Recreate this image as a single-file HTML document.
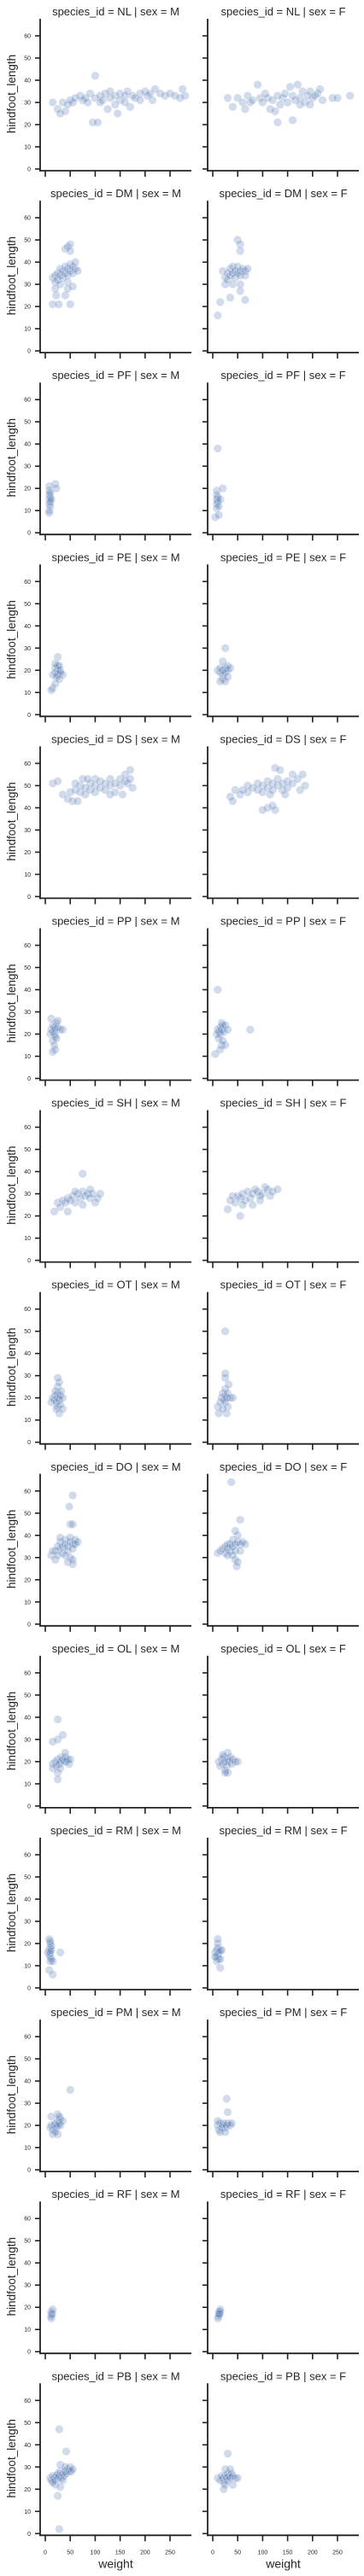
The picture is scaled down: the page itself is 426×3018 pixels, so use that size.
<!DOCTYPE html>
<html><head><meta charset="utf-8"><style>
html,body{margin:0;padding:0;background:#fff}
svg{display:block}
text{font-family:"Liberation Sans",Arial,sans-serif;fill:#262626}
</style></head><body>
<svg id="chart" width="426" height="3018" viewBox="0 0 426 3018" xmlns="http://www.w3.org/2000/svg"></svg>
<script>
const species = ["NL","DM","PF","PE","DS","PP","SH","OT","DO","OL","RM","PM","RF","PB"];
const sexes = ["M","F"];
const yTicks = [0,10,20,30,40,50,60];
const xTicks = [0,50,100,150,200,250];
const NL_M=[[15,30],[25,27],[30,25],[35,30],[40,26],[45,29],[50,31],[55,30],[60,32],[70,33],[75,31],[80,32],[90,34],[95,21],[100,42],[105,21],[100,32],[110,33],[115,31],[120,34],[125,27],[130,32],[140,33],[145,25],[150,34],[150,31],[160,33],[165,35],[170,28],[175,33],[180,32],[190,34],[200,35],[205,33],[210,34],[220,36],[230,34],[240,33],[250,34],[260,33],[270,32],[275,36],[280,33],[130,35],[160,30],[190,31],[85,30],[110,30],[140,29],[215,31]];
const NL_F=[[30,32],[40,28],[50,32],[60,30],[65,27],[70,33],[75,30],[80,31],[90,38],[95,32],[100,30],[105,34],[110,32],[115,27],[120,31],[125,26],[130,33],[130,21],[140,32],[145,34],[150,30],[155,37],[160,22],[160,33],[165,31],[170,38],[175,32],[180,35],[185,30],[190,33],[195,35],[200,32],[205,33],[210,34],[215,36],[220,31],[240,32],[250,32],[275,33],[135,29],[175,29],[195,29]];
const DM_M=[[15,33],[20,34],[20,31],[25,35],[25,32],[30,34],[30,37],[35,33],[35,36],[40,35],[40,38],[45,34],[45,37],[50,36],[50,39],[55,35],[55,38],[60,37],[60,40],[65,36],[30,30],[45,31],[40,46],[45,47],[50,48],[50,45],[15,21],[27,21],[50,21],[22,25],[40,25],[20,28],[45,28],[55,29]];
const DM_F=[[20,36],[25,33],[25,30],[30,35],[30,32],[35,34],[35,37],[40,35],[40,38],[45,36],[45,33],[50,35],[50,38],[55,36],[55,34],[60,37],[65,36],[65,34],[70,37],[40,30],[55,30],[50,50],[55,48],[55,45],[35,24],[65,23],[55,27],[15,22],[10,16]];
const PF_M=[[8,15],[8,13],[8,17],[10,16],[10,14],[10,12],[8,19],[8,21],[8,10],[8,9],[12,15],[10,18],[20,22],[22,20]];
const PF_F=[[8,15],[8,13],[8,17],[10,16],[10,14],[8,19],[8,11],[5,7],[12,8],[10,38],[20,20],[12,12],[15,15]];
const PE_M=[[15,18],[20,19],[20,21],[25,20],[25,18],[25,22],[30,20],[30,19],[22,17],[28,22],[35,18],[25,26],[15,12],[12,11],[20,14],[28,16],[20,23]];
const PE_F=[[10,20],[15,19],[15,21],[20,20],[20,18],[25,21],[25,19],[30,20],[30,22],[20,16],[15,15],[25,15],[35,21],[25,30],[20,24],[30,17]];
const DS_M=[[15,51],[25,52],[35,46],[45,44],[55,43],[65,43],[50,47],[60,48],[70,47],[70,50],[80,49],[80,46],[90,48],[90,51],[100,47],[100,50],[100,53],[110,49],[110,52],[120,48],[120,51],[130,50],[130,53],[140,47],[140,51],[150,50],[150,53],[160,52],[160,55],[165,51],[170,53],[170,57],[175,49],[155,46],[130,46],[75,53],[60,51],[85,53]];
const DS_F=[[35,45],[40,43],[45,48],[55,46],[60,48],[70,47],[70,50],[80,49],[90,48],[90,51],[100,50],[100,47],[110,52],[110,49],[120,51],[120,48],[130,50],[130,53],[140,51],[140,48],[150,52],[150,49],[160,51],[160,55],[170,53],[175,48],[185,50],[110,40],[120,41],[125,39],[100,39],[125,58],[135,57],[180,55],[115,46],[145,46]];
const PP_M=[[10,20],[12,22],[15,21],[15,24],[18,20],[18,23],[20,22],[20,19],[22,25],[25,23],[15,17],[18,15],[20,13],[15,12],[12,27],[25,26],[30,22],[35,22],[22,18]];
const PP_F=[[8,20],[10,22],[12,21],[15,23],[15,20],[18,22],[18,25],[20,24],[22,21],[12,18],[18,15],[15,13],[25,15],[5,11],[10,40],[25,24],[30,22],[75,22],[20,17]];
const SH_M=[[18,22],[25,26],[30,24],[35,27],[40,26],[45,22],[45,28],[50,27],[55,29],[60,26],[65,30],[70,28],[75,31],[75,25],[80,29],[85,30],[90,28],[95,30],[100,26],[105,28],[110,30],[75,39],[60,31],[90,32]];
const SH_F=[[30,23],[35,27],[40,29],[45,26],[50,29],[55,28],[55,20],[60,30],[65,27],[70,31],[75,28],[80,30],[80,25],[85,32],[90,31],[95,27],[100,30],[105,33],[110,32],[115,29],[120,31],[130,32],[60,25],[95,29]];
const OT_M=[[12,18],[15,20],[18,19],[20,21],[22,18],[25,20],[25,22],[28,19],[30,21],[30,17],[35,20],[25,16],[22,15],[28,13],[25,25],[28,27],[25,29],[20,23],[32,23],[35,15]];
const OT_F=[[10,16],[12,13],[15,18],[18,20],[20,22],[22,19],[25,21],[25,18],[28,20],[30,22],[35,20],[30,16],[28,13],[25,24],[32,26],[25,29],[25,31],[25,50],[20,15],[40,20]];
const DO_M=[[12,31],[15,33],[20,33],[20,29],[25,35],[30,34],[30,37],[35,35],[35,32],[40,36],[40,38],[45,35],[45,33],[50,37],[50,39],[55,36],[55,34],[60,38],[60,36],[65,37],[40,31],[50,30],[45,28],[55,27],[55,29],[50,45],[55,45],[48,53],[55,58],[30,39],[25,31]];
const DO_F=[[10,32],[15,33],[20,34],[25,35],[25,32],[30,34],[30,36],[35,33],[35,36],[40,35],[40,38],[45,36],[45,33],[50,37],[55,36],[60,37],[65,36],[50,40],[45,42],[45,29],[50,28],[48,26],[55,47],[37,64],[40,31],[30,31],[55,33]];
const OL_M=[[15,17],[15,19],[20,20],[22,18],[25,21],[28,19],[30,20],[32,22],[35,21],[38,20],[40,22],[42,20],[45,21],[48,19],[50,21],[30,17],[25,15],[25,12],[15,29],[25,30],[35,32],[25,39],[40,24]];
const OL_F=[[12,20],[15,18],[18,21],[20,19],[22,22],[25,20],[28,18],[30,21],[32,20],[35,22],[38,19],[40,21],[45,20],[50,20],[25,16],[30,15],[25,15],[30,24],[20,23]];
const RM_M=[[5,16],[8,17],[8,15],[10,18],[10,14],[10,16],[12,17],[12,19],[10,12],[10,20],[12,13],[8,8],[15,6],[30,16],[15,12],[10,21],[8,22]];
const RM_F=[[5,16],[8,17],[8,14],[10,18],[10,15],[12,16],[12,13],[15,17],[8,12],[10,20],[10,22],[15,9],[18,17],[15,13],[5,14]];
const PM_M=[[10,19],[12,20],[15,18],[18,20],[20,21],[22,19],[25,22],[25,20],[28,21],[30,23],[30,20],[25,25],[28,24],[15,16],[25,16],[35,22],[50,36],[12,24],[20,17]];
const PM_F=[[10,20],[12,18],[15,21],[18,19],[20,20],[22,21],[25,19],[28,20],[30,21],[35,20],[38,21],[25,17],[15,17],[30,26],[28,32],[10,22]];
const RF_M=[[12,17],[12,18],[12,16],[14,17],[15,19],[12,15]];
const RF_F=[[12,17],[14,17],[12,18],[15,18],[12,16],[10,15],[15,19],[13,17]];
const PB_M=[[10,25],[12,24],[15,26],[18,25],[20,24],[22,26],[25,25],[25,27],[28,26],[30,28],[32,25],[35,27],[38,26],[40,28],[42,27],[45,29],[48,28],[50,30],[52,28],[55,29],[30,31],[40,30],[20,22],[30,21],[15,23],[25,17],[28,2],[28,47],[42,37],[35,24]];
const PB_F=[[10,25],[15,24],[18,26],[20,25],[22,23],[25,26],[28,25],[30,27],[30,24],[32,26],[35,25],[38,27],[40,26],[45,25],[50,25],[25,22],[22,20],[40,22],[30,36],[25,29],[35,29]];
const panelData = {NL_M,NL_F,DM_M,DM_F,PF_M,PF_F,PE_M,PE_F,DS_M,DS_F,PP_M,PP_F,SH_M,SH_F,OT_M,OT_F,DO_M,DO_F,OL_M,OL_F,RM_M,RM_F,PM_M,PM_F,RF_M,RF_F,PB_M,PB_F};

const NS="http://www.w3.org/2000/svg";
const svg=document.getElementById('chart');
const ROW0=198, PITCH=213.1, YS=2.6, XS=0.584;
const colLeft=[47,243];
function yScale(r,v){return ROW0+r*PITCH - v*YS;}
function xScale(c,w){return colLeft[c]+6+w*XS;}
function mk(tag,attrs,parent){const e=document.createElementNS(NS,tag);for(const k in attrs)e.setAttribute(k,attrs[k]);(parent||svg).appendChild(e);return e;}

species.forEach((sp,r)=>{
  const y0=ROW0+r*PITCH;
  sexes.forEach((sx,c)=>{
    const L=colLeft[c];
    const g=mk('g',{});
    
    
    const t=mk('text',{x:L+88.5,y:y0-180,'text-anchor':'middle','font-size':'13'},g);
    t.textContent='species_id = '+sp+' | sex = '+sx;
    
    
    const pts=panelData[sp+'_'+sx];
    pts.forEach(p=>{
      const ci=mk('circle',{cx:xScale(c,p[0]),cy:yScale(r,p[1]),r:4.8,fill:'rgba(76,114,176,0.26)',stroke:'rgba(255,255,255,0.6)','stroke-width':'0.5'},g);
      
      
    });
    const ys=mk('line',{x1:L,y1:y0-176,x2:L,y2:y0+2.8,stroke:'#222','stroke-width':'1.8'},g);
    
    
    const xs=mk('line',{x1:L-0.9,y1:y0+2,x2:L+177,y2:y0+2,stroke:'#222','stroke-width':'1.8'},g);
    
    
    yTicks.forEach(v=>{
      const yy=yScale(r,v);
      const tk=mk('line',{x1:L-6,y1:yy,x2:L,y2:yy,stroke:'#222','stroke-width':'1.6'},g);
      
      
      if(c===0){
        const tl=mk('text',{x:L-11,y:yy+2.5,'text-anchor':'end','font-size':'7'},g);
        tl.textContent=v;
        
        
      }
    });
    xTicks.forEach(v=>{
      const xx=xScale(c,v);
      const tk=mk('line',{x1:xx,y1:y0+2,x2:xx,y2:y0+9,stroke:'#222','stroke-width':'1.6'},g);
      
      
      if(r===species.length-1){
        const tl=mk('text',{x:xx,y:y0+24,'text-anchor':'middle','font-size':'7'},g);
        tl.textContent=v;
        
        
      }
    });
    if(c===0){
      const cy=y0-88;
      const yl=mk('text',{x:18,y:cy,'text-anchor':'middle','font-size':'13.5',transform:'rotate(-90 18 '+cy+')'},g);
      yl.textContent='hindfoot_length';
      
      
    }
    if(r===species.length-1){
      const xl=mk('text',{x:L+88.5,y:y0+40,'text-anchor':'middle','font-size':'14'},g);
      xl.textContent='weight';
      
      
    }
  });
});
</script>
</body></html>
